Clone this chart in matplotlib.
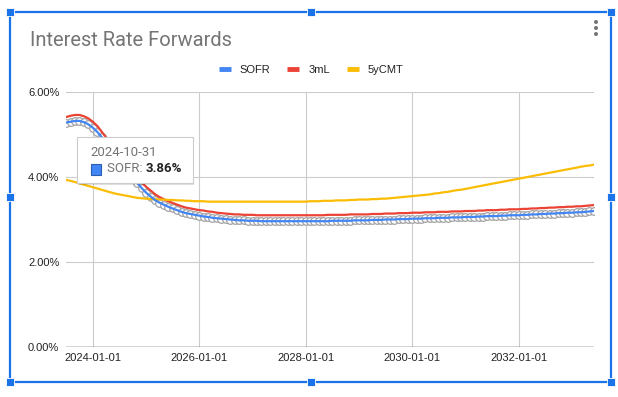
import numpy as np
import pandas as pd
import matplotlib
matplotlib.use('Agg')
import matplotlib.pyplot as plt
from matplotlib.lines import Line2D
from matplotlib.patches import Rectangle, Ellipse

plt.rcParams['font.family'] = ['Liberation Sans', 'DejaVu Sans']
roboto = ['Roboto', 'DejaVu Sans']

# 月末日期 2023-06-30 .. 2033-05-31
dates = pd.date_range('2023-06-30', '2033-05-31', freq='ME')

sofr = [
    5.28, 5.30, 5.32, 5.32, 5.29, 5.24, 5.16,
    5.06, 4.94, 4.80, 4.66, 4.51, 4.37, 4.23, 4.10, 3.98, 3.86, 3.74, 3.63,
    3.54, 3.46, 3.40, 3.35, 3.30, 3.26, 3.22, 3.18, 3.15, 3.13, 3.11, 3.09,
    3.07, 3.06, 3.04, 3.03, 3.02, 3.01, 3.00, 2.99, 2.98, 2.98, 2.97, 2.97,
    2.97, 2.96, 2.96, 2.96, 2.96, 2.96, 2.96, 2.96, 2.96, 2.96, 2.96, 2.96,
    2.96, 2.96, 2.96, 2.96, 2.96, 2.97, 2.97, 2.97, 2.97, 2.97, 2.98, 2.98,
    2.98, 2.98, 2.99, 2.99, 2.99, 3.00, 3.00, 3.00, 3.01, 3.01, 3.01, 3.02,
    3.02, 3.02, 3.03, 3.03, 3.03, 3.04, 3.04, 3.04, 3.05, 3.05, 3.05, 3.06,
    3.06, 3.06, 3.07, 3.07, 3.08, 3.08, 3.08, 3.09, 3.09, 3.10, 3.10, 3.10,
    3.11, 3.11, 3.12, 3.12, 3.13, 3.13, 3.14, 3.14, 3.15, 3.15, 3.16, 3.16,
    3.17, 3.17, 3.18, 3.19, 3.20,
]
libor_3m = [
    5.41, 5.44, 5.46, 5.46, 5.43, 5.38, 5.30,
    5.20, 5.07, 4.93, 4.79, 4.64, 4.50, 4.36, 4.23, 4.11, 3.99, 3.87, 3.77,
    3.68, 3.60, 3.53, 3.48, 3.43, 3.39, 3.35, 3.31, 3.28, 3.26, 3.24, 3.22,
    3.21, 3.19, 3.18, 3.16, 3.15, 3.14, 3.13, 3.12, 3.12, 3.11, 3.11, 3.11,
    3.10, 3.10, 3.10, 3.10, 3.10, 3.10, 3.10, 3.10, 3.10, 3.10, 3.10, 3.10,
    3.10, 3.10, 3.10, 3.10, 3.11, 3.11, 3.11, 3.11, 3.11, 3.12, 3.12, 3.12,
    3.12, 3.12, 3.13, 3.13, 3.13, 3.14, 3.14, 3.14, 3.15, 3.15, 3.15, 3.16,
    3.16, 3.16, 3.17, 3.17, 3.17, 3.18, 3.18, 3.18, 3.19, 3.19, 3.19, 3.20,
    3.20, 3.20, 3.21, 3.21, 3.22, 3.22, 3.22, 3.23, 3.23, 3.24, 3.24, 3.24,
    3.25, 3.25, 3.26, 3.26, 3.27, 3.27, 3.28, 3.28, 3.29, 3.29, 3.30, 3.30,
    3.31, 3.31, 3.32, 3.33, 3.34,
]
cmt_5y = [
    3.93, 3.91, 3.88, 3.85, 3.82, 3.79, 3.76,
    3.73, 3.70, 3.67, 3.64, 3.61, 3.59, 3.57, 3.55, 3.53, 3.51, 3.50, 3.49,
    3.48, 3.48, 3.47, 3.47, 3.46, 3.46, 3.45, 3.45, 3.44, 3.44, 3.43, 3.43,
    3.43, 3.42, 3.42, 3.42, 3.42, 3.42, 3.42, 3.42, 3.42, 3.42, 3.42, 3.42,
    3.42, 3.42, 3.42, 3.42, 3.42, 3.42, 3.42, 3.42, 3.42, 3.42, 3.42, 3.42,
    3.43, 3.43, 3.43, 3.44, 3.44, 3.44, 3.45, 3.45, 3.45, 3.46, 3.46, 3.47,
    3.47, 3.47, 3.48, 3.48, 3.49, 3.49, 3.50, 3.51, 3.52, 3.53, 3.54, 3.55,
    3.56, 3.57, 3.58, 3.59, 3.61, 3.62, 3.64, 3.65, 3.67, 3.69, 3.70, 3.72,
    3.74, 3.76, 3.78, 3.80, 3.82, 3.84, 3.86, 3.88, 3.90, 3.92, 3.94, 3.96,
    3.98, 4.00, 4.02, 4.04, 4.06, 4.08, 4.10, 4.12, 4.14, 4.16, 4.18, 4.20,
    4.22, 4.24, 4.26, 4.27, 4.29,
]

series_names = ['SOFR', '3mL', '5yCMT']
colors = ['#4285f4', '#ea4335', '#fbbc04']
x_ticks = ['2024-01-01', '2026-01-01', '2028-01-01', '2030-01-01', '2032-01-01']
y_ticks = [0, 2, 4, 6]
hover_date = '2024-10-31'

W, H = 618, 397
fig = plt.figure(figsize=(W / 100, H / 100), dpi=100)


def fx(px):
    return px / W


def fy(py):
    return 1 - py / H


ax = fig.add_axes([fx(66), fy(347), fx(594) - fx(66), fy(92) - fy(347)])

# 高亮的SOFR：灰色圆点 + 蓝线
ax.plot(dates, sofr, ls='none', marker='o', ms=5.5, mfc='white',
        mec='#a3a3a3', mew=0.9, zorder=3)
ax.plot(dates, libor_3m, color=colors[1], lw=1.6, zorder=4)
ax.plot(dates, cmt_5y, color=colors[2], lw=1.6, zorder=4)
ax.plot(dates, sofr, color=colors[0], lw=1.6, zorder=5)

ax.set_xlim(dates[0], dates[-1])
ax.set_ylim(0, 6)
ax.set_xticks(pd.to_datetime(x_ticks))
ax.set_xticklabels(x_ticks)
ax.set_yticks(y_ticks)
ax.set_yticklabels([f'{v:.2f}%' for v in y_ticks])
ax.grid(color='#cccccc', lw=0.8)
ax.set_axisbelow(True)
for s in ax.spines.values():
    s.set_visible(False)
ax.axhline(0, color='#333333', lw=1.0, zorder=2)
ax.tick_params(length=0, labelsize=8, colors='#222222')
ax.tick_params(axis='y', pad=4.8)
ax.tick_params(axis='x', pad=4)

# 标题
fig.text(fx(30), fy(40), 'Interest Rate Forwards', fontsize=14.5,
         color='#757575', va='center', ha='left', family=roboto)

# 图例
handles = [Line2D([], [], color=c, lw=3.5, solid_capstyle='butt') for c in colors]
fig.legend(handles, series_names, loc='center', bbox_to_anchor=(fx(311), fy(70)),
           ncol=3, frameon=False, fontsize=8, handlelength=1.1,
           handletextpad=0.8, columnspacing=1.5, labelcolor='#222222')

# 提示框
idx = list(dates.strftime('%Y-%m-%d')).index(hover_date)
tx0, ty0, tx1, ty1 = 77, 137, 193, 183
fig.add_artist(Rectangle((fx(tx0 + 1), fy(ty1 + 2)), fx(tx1 - tx0), fy(ty0) - fy(ty1),
                         transform=fig.transFigure, fc='#000000', alpha=0.12,
                         ec='none', zorder=10))
fig.add_artist(Rectangle((fx(tx0), fy(ty1)), fx(tx1 - tx0), fy(ty0) - fy(ty1),
                         transform=fig.transFigure, fc='white', ec='#cccccc',
                         lw=0.8, zorder=11))
fig.text(fx(90), fy(152), hover_date, fontsize=9.5, color='#757575',
         va='center', ha='left', zorder=12, family=roboto)
fig.add_artist(Rectangle((fx(91), fy(175)), fx(10), fy(164) - fy(175),
                         transform=fig.transFigure, fc=colors[0], ec='#2a5db0',
                         lw=0.8, zorder=12))
t1 = fig.text(fx(107), fy(169), 'SOFR: ', fontsize=9.5, color='#757575',
              va='center', ha='left', zorder=12, family=roboto)
fig.canvas.draw()
bb = t1.get_window_extent()
fig.text(bb.x1 / W, fy(169), f'{sofr[idx]:.2f}%', fontsize=9.5, color='#222222',
         fontweight='bold', va='center', ha='left', zorder=12, family=roboto)

# 选中框
blue = '#1a73e8'
fig.add_artist(Rectangle((fx(10), fy(382)), fx(601), fy(12) - fy(382),
                         transform=fig.transFigure, fill=False, ec=blue, lw=1.6,
                         zorder=20))
for hx, hy in [(10, 12), (311, 12), (611, 12), (10, 197), (611, 197),
               (10, 382), (311, 382), (611, 382)]:
    fig.add_artist(Rectangle((fx(hx - 4), fy(hy + 4)), fx(8), 8 / H,
                             transform=fig.transFigure, fc=blue, ec='white',
                             lw=0.6, zorder=21))

# 菜单点
for dy in [22, 28, 34]:
    fig.add_artist(Ellipse((fx(596), fy(dy)), fx(4), 4 / H,
                           transform=fig.transFigure, fc='#757575', ec='none'))

fig.savefig('out.png', dpi=100)
